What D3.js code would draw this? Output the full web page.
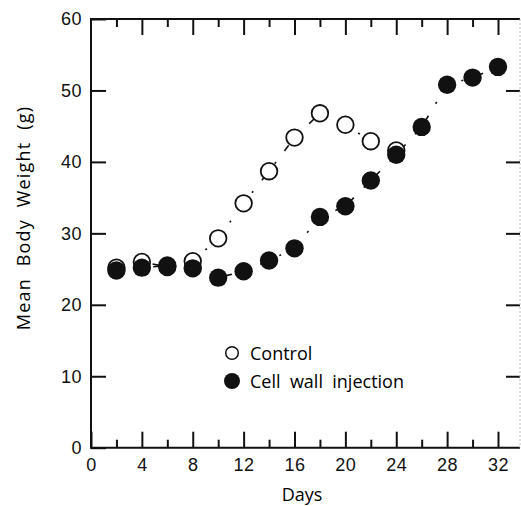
<!DOCTYPE html>
<html>
<head>
<meta charset="utf-8">
<script src="https://cdn.jsdelivr.net/npm/d3@7"></script>
<style>
  body { margin: 0; background: #fff; }
  svg { display: block; font-family: "Open Sans", sans-serif; }
  .axis text { font-size: 18px; fill: #111; letter-spacing: 0.5px; }
  .axis line { stroke: #111; stroke-width: 2; }
  .axis path { display: none; }
</style>
</head>
<body>
<div id="chart"></div>
<script>
// data
const days = [2, 4, 6, 8, 10, 12, 14, 16, 18, 20, 22, 24, 26, 28, 30, 32];
const control = [25.2, 26.0, 25.3, 26.1, 29.3, 34.2, 38.7, 43.4, 46.8, 45.2, 42.9, 41.6];
const cellWall = [24.8, 25.2, 25.5, 25.1, 23.8, 24.7, 26.2, 27.9, 32.3, 33.8, 37.4, 41.0, 44.9, 50.8, 51.8, 53.3];
const xMajor = [0, 4, 8, 12, 16, 20, 24, 28, 32];
const xMinor = [2, 6, 10, 14, 18, 22, 26, 30];
const yTicks = [0, 10, 20, 30, 40, 50, 60];
const legendLabels = ["Control", "Cell  wall  injection"];

const W = 521, H = 506;
const pLeft = 91, pRight = 520, pTop = 19, pBottom = 447.7;

const svg = d3.select("#chart").append("svg").attr("width", W).attr("height", H);

const x = d3.scaleLinear().domain([0, 32]).range([pLeft, 498]);
const y = d3.scaleLinear().domain([0, 60]).range([pBottom, pTop]);

//// axes
svg.append("g").attr("class", "axis")
    .attr("transform", `translate(0,${pBottom})`)
    .call(d3.axisBottom(x).tickValues(xMajor).tickSize(-16).tickPadding(11));
svg.append("g").attr("class", "axis")
    .attr("transform", `translate(0,${pBottom})`)
    .call(d3.axisBottom(x).tickValues(xMinor).tickSize(-8).tickFormat(""));
svg.append("g").attr("class", "axis")
    .attr("transform", `translate(0,${pTop})`)
    .call(d3.axisTop(x).tickValues(xMajor.slice(1)).tickSize(-16).tickFormat(""));
svg.append("g").attr("class", "axis")
    .attr("transform", `translate(0,${pTop})`)
    .call(d3.axisTop(x).tickValues(xMinor).tickSize(-8).tickFormat(""));
svg.append("g").attr("class", "axis")
    .attr("transform", `translate(${pLeft},0)`)
    .call(d3.axisLeft(y).tickValues(yTicks).tickSize(-15).tickPadding(9));
svg.append("g").attr("class", "axis")
    .attr("transform", `translate(${pRight},0)`)
    .call(d3.axisRight(y).tickValues(yTicks.slice(1, -1)).tickSize(-14).tickFormat(""));

// frame
svg.append("path")
    .attr("d", `M${pRight},${pTop}H${pLeft}V${pBottom}H${pRight}`)
    .attr("fill", "none").attr("stroke", "#111").attr("stroke-width", 2);
svg.append("line")
    .attr("x1", pRight).attr("x2", pRight).attr("y1", pTop).attr("y2", pBottom)
    .attr("stroke", "#bbb").attr("stroke-width", 1).attr("stroke-dasharray", "2,2");

//// titles
svg.append("text")
    .attr("x", 302).attr("y", 501)
    .attr("text-anchor", "middle")
    .style("font-size", "18px")
    .text("Days");
svg.append("text")
    .attr("transform", "translate(30,218) rotate(-90)")
    .attr("text-anchor", "middle")
    .style("font-size", "18px")
    .style("letter-spacing", "1.2px")
    .style("white-space", "pre")
    .text("Mean  Body  Weight  (g)");

//// series
const line = d3.line().x(d => x(d[0])).y(d => y(d[1]));
const ctl = control.map((v, i) => [days[i], v]);
const cw = cellWall.map((v, i) => [days[i], v]);

svg.append("path").datum(ctl).attr("d", line)
    .attr("fill", "none").attr("stroke", "#111").attr("stroke-width", 1.6)
    .attr("stroke-dasharray", "7,14,2,14");
svg.append("path").datum(cw).attr("d", line)
    .attr("fill", "none").attr("stroke", "#111").attr("stroke-width", 1.6)
    .attr("stroke-dasharray", "7,14,2,14");

svg.append("g").selectAll("circle").data(ctl).enter().append("circle")
    .attr("cx", d => x(d[0])).attr("cy", d => y(d[1])).attr("r", 8.3)
    .attr("fill", "#fff").attr("stroke", "#111").attr("stroke-width", 1.8);
svg.append("g").selectAll("circle").data(cw).enter().append("circle")
    .attr("cx", d => x(d[0])).attr("cy", d => y(d[1])).attr("r", 9.2)
    .attr("fill", "#111");

//// legend
const lg = svg.append("g").attr("transform", "translate(232,353)");
lg.append("circle").attr("cx", 0).attr("cy", 0).attr("r", 6.3)
    .attr("fill", "#fff").attr("stroke", "#111").attr("stroke-width", 1.5);
lg.append("circle").attr("cx", 0).attr("cy", 28).attr("r", 8).attr("fill", "#111");
lg.selectAll("text").data(legendLabels).enter().append("text")
    .attr("x", 18).attr("y", (d, i) => i * 28 + 6.5)
    .style("font-size", "18px")
    .style("white-space", "pre")
    .text(d => d);
</script>
</body>
</html>
